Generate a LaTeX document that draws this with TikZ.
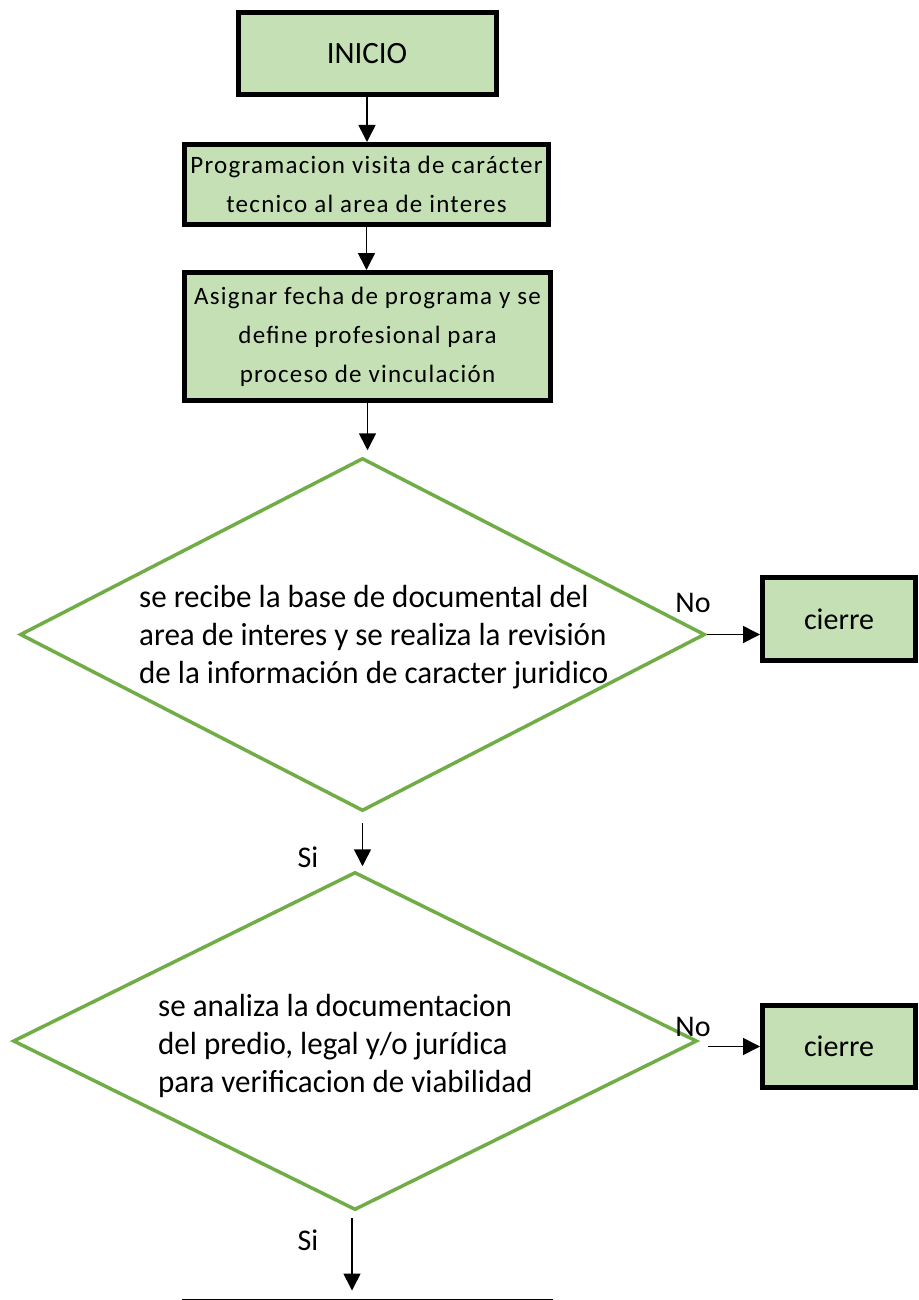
\documentclass[tikz,border=0pt]{standalone}
\usepackage{fontspec}
\setmainfont{Carlito}
\usetikzlibrary{shapes.geometric,arrows.meta}
\definecolor{boxgreen}{HTML}{C5E0B4}
\definecolor{linegreen}{HTML}{70AD47}

\begin{document}
\begin{tikzpicture}[x=1pt,y=-1pt,
        stepbox/.style={draw, line width=5pt, fill=boxgreen, align=center, inner sep=0pt},
        btext/.style={font=\fontsize{25}{39}\selectfont\addfontfeatures{LetterSpace=5}},
        decision/.style={draw=linegreen, line width=3.5pt, diamond, inner sep=0pt},
        dtext/.style={align=left, inner sep=0pt, anchor=west, font=\fontsize{32}{38}\selectfont\addfontfeatures{FakeStretch=0.97}},
        lbl/.style={inner sep=0pt, font=\fontsize{30}{34}\selectfont},
        flow/.style={draw, line width=1.6pt, -{Triangle[length=17pt,width=17pt]}}
        ]
        \useasboundingbox (0,0) rectangle (918,1300);

        \node[stepbox, minimum width=258pt, minimum height=82pt, font=\fontsize{31}{36}\selectfont] (inicio) at (367,53.5) {INICIO};
        \node[stepbox, btext, minimum width=364pt, minimum height=80pt] (visita) at (366.5,184.5) {Programacion visita de carácter\\tecnico al area de interes};
        \node[stepbox, btext, minimum width=366pt, minimum height=128pt] (fecha) at (367.5,336.5) {Asignar fecha de programa y se\\define profesional para\\proceso de vinculación};

        % First decision
        \node[decision, minimum width=685pt, minimum height=353pt] (revision) at (362.5,634.5) {};
        \node[dtext] (revisiontxt) at (139,637) {se recibe la base de documental del\\area de interes  y se realiza la revisión\\de la información  de caracter juridico};
        \node[stepbox, minimum width=153pt, minimum height=83pt, font=\fontsize{30}{36}\selectfont] (cierreA) at (839,619) {cierre};

        % Second decision
        \node[decision, minimum width=684pt, minimum height=338pt] (viabilidad) at (355,1041) {};
        \node[dtext] (viabilidadtxt) at (158,1046) {se analiza la documentacion\\del predio, legal y/o jurídica\\para verificacion de viabilidad};
        \node[stepbox, minimum width=153pt, minimum height=82pt, font=\fontsize{30}{36}\selectfont] (cierreB) at (839,1046.5) {cierre};

        % next step, cut off by the page
        \node[stepbox, minimum width=366pt, minimum height=84pt] (siguiente) at (367.5,1343) {};
        \coordinate (salida) at (352,1218);

        \draw[flow] (inicio.south) -- (inicio.south |- visita.north);
        \draw[flow] (visita.south) -- (visita.south |- fecha.north);
        \draw[flow, shorten >=6pt] (fecha.south) -- (fecha.south |- revision.north);
        \draw[flow, shorten <=10pt, shorten >=4pt] (revision.south) -- (revision.south |- viabilidad.north);
        \draw[flow] (revision.east) -- (cierreA.west |- revision.east);
        \draw[flow, shorten <=9pt] (viabilidad.east |- cierreB.west) -- (cierreB.west);
        \draw[flow, shorten >=8pt] (salida) -- (salida |- siguiente.north);

        \node[lbl] (noA) at (693,603) {No};
        \node[lbl] (noB) at (693,1027) {No};
        \node[lbl] (siA) at (308,857) {Si};
        \node[lbl] (siB) at (308,1240) {Si};
\end{tikzpicture}
\end{document}
